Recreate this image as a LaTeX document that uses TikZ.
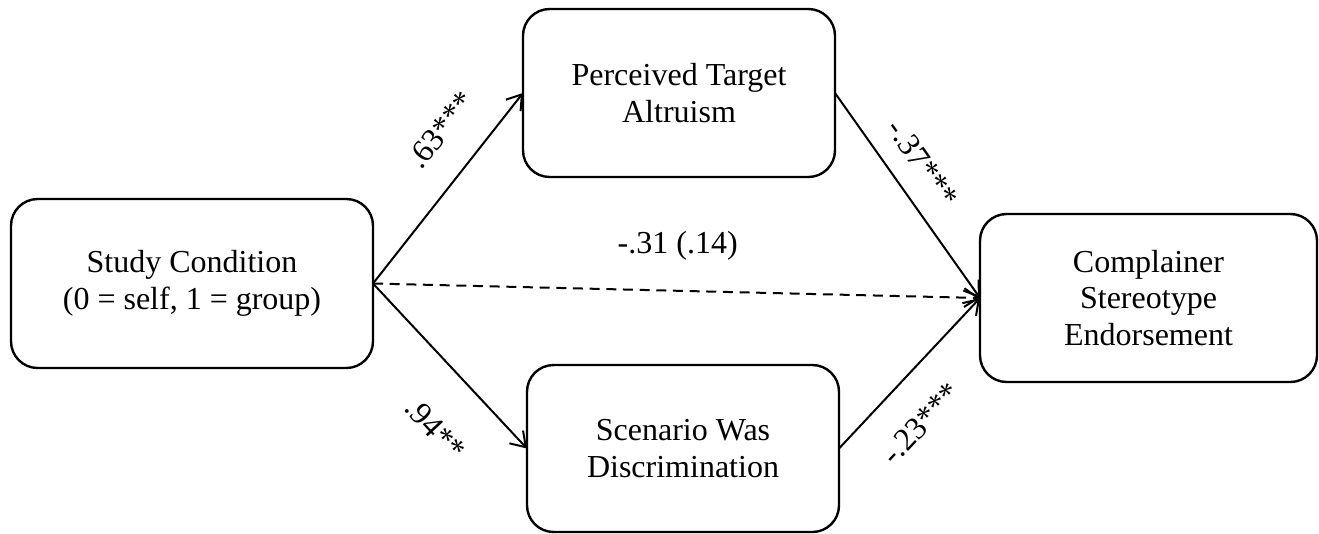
\documentclass[tikz,border=0pt]{standalone}
\usepackage{fontspec}
\setmainfont{Liberation Serif}
\usetikzlibrary{arrows.meta}
\begin{document}
\begin{tikzpicture}[x=0.75pt,y=-0.75pt,
  box/.style={draw, line width=1.8pt, rounded corners=20pt, align=center,
    inner sep=0pt, outer sep=0pt, font=\fontsize{24}{27.6}\selectfont},
  conn/.style={line width=1.5pt,
    -{Straight Barb[length=10.5pt,width=14pt,line width=1.5pt]}},
  coef/.style={font=\fontsize{24}{27.6}\selectfont, inner sep=0pt}]
\useasboundingbox (0,0) rectangle (1319,533);

% variables
\node[box, minimum width=271.5pt, minimum height=126.75pt] (study) at (192,283.5)
  {Study Condition\\(0 = self, 1 = group)};
\node[box, minimum width=234pt, minimum height=126pt] (perc) at (679,93)
  {Perceived Target\\Altruism};
\node[box, minimum width=234pt, minimum height=125.25pt] (scen) at (683,448.5)
  {Scenario Was\\Discrimination};
\node[box, minimum width=252.75pt, minimum height=126pt] (comp) at (1148.5,298)
  {Complainer\\Stereotype\\Endorsement};

% paths with coefficients
\draw[conn] (study.east) -- node[coef, sloped, above=22.5pt, pos=0.67] {.63***} (perc.west);
\draw[conn] (perc.east) -- node[coef, sloped, above=14.6pt, pos=0.43] {-.37***} (comp.west);
\draw[conn] (study.east) -- node[coef, sloped, below=31.5pt, pos=0.66] {.94**} (scen.west);
\draw[conn] (scen.east) -- node[coef, sloped, below=23pt, pos=0.36] {-.23***} (comp.west);
\draw[conn, dashed, dash pattern=on 7.5pt off 5pt] (study.east) --
  node[coef, above=22pt, pos=0.502] {-.31 (.14)} (comp.west);
\end{tikzpicture}
\end{document}
